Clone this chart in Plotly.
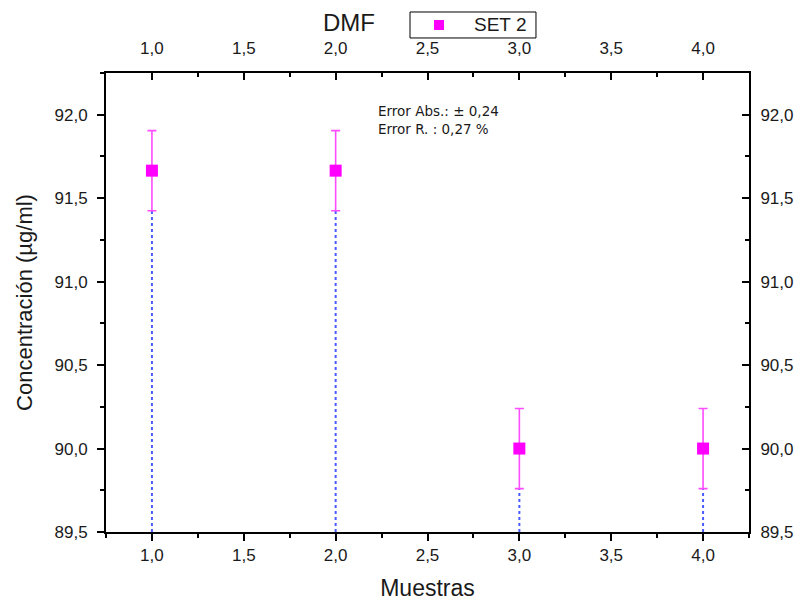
import plotly.graph_objects as go

# Sample numbers and measured concentrations (µg/ml)
muestras = [1.0, 2.0, 3.0, 4.0]
concentracion = [91.665, 91.665, 90.0, 90.0]
error_abs = [0.24, 0.24, 0.24, 0.24]
serie = "SET 2"

x_range = [0.75, 4.25]
y_range = [89.5, 92.25]
y_base = y_range[0]

font_family = "Liberation Sans, Arial, sans-serif"
ink = "#1a1a1a"
magenta = "#ff00ff"

fig = go.Figure()

# Dotted drop lines from the lower end of each error bar down to the axis
for xv, yv, ev in zip(muestras, concentracion, error_abs):
    fig.add_trace(go.Scatter(
        x=[xv, xv], y=[y_base, yv - ev], mode="lines",
        line=dict(color="#4a5cff", width=2, dash="dot"),
        showlegend=False, hoverinfo="skip",
    ))

# Measured values with absolute error bars
fig.add_trace(go.Scatter(
    x=muestras, y=concentracion, mode="markers", name=serie,
    marker=dict(symbol="square", size=12, color=magenta),
    error_y=dict(type="data", array=error_abs, visible=True,
                 color="#ff4cff", thickness=1.6, width=4.5),
    showlegend=False,
))

# Invisible trace that anchors the mirrored top/right axes
fig.add_trace(go.Scatter(
    x=muestras, y=concentracion, xaxis="x2", yaxis="y2", mode="markers",
    marker=dict(opacity=0), showlegend=False, hoverinfo="skip",
))

axis_common = dict(
    showgrid=False, zeroline=False, showline=True, linecolor="black",
    linewidth=2, tickcolor="black", tickwidth=2, ticklen=7,
    tickfont=dict(family=font_family, size=17, color=ink),
    tickformat=".1f", automargin=False,
)
minor_out = dict(ticks="outside", ticklen=4, tickwidth=2, tickcolor="black")
minor_in = dict(ticks="inside", ticklen=4, tickwidth=2, tickcolor="black")

# Compact framed legend box above the plot
legend_shapes = [
    dict(type="rect", xref="paper", yref="paper",
         x0=0.4728, x1=0.6687, y0=1.0763, y1=1.1329,
         line=dict(color="black", width=1), fillcolor="white", layer="above"),
    dict(type="rect", xref="paper", yref="paper",
         x0=0.5101, x1=0.5257, y0=1.0937, y1=1.1155,
         line=dict(width=0), fillcolor=magenta, layer="above"),
]

fig.update_layout(
    width=800, height=601,
    paper_bgcolor="white", plot_bgcolor="white",
    separators=",.",
    margin=dict(l=106, r=51, t=73, b=69, autoexpand=False),
    font=dict(family=font_family, color=ink),
    showlegend=False,
    xaxis=dict(
        **axis_common, range=x_range, dtick=0.5, tick0=1.0, ticks="outside",
        minor=dict(dtick=0.25, tick0=0.75, **minor_out),
        title=dict(text="Muestras", font=dict(size=23, color=ink), standoff=16),
    ),
    yaxis=dict(
        **axis_common, range=y_range, dtick=0.5, tick0=89.5, ticks="outside",
        ticklabelstandoff=6,
        minor=dict(dtick=0.25, **minor_out),
        title=dict(text="Concentración (µg/ml)", font=dict(size=22, color=ink),
                   standoff=16),
    ),
    xaxis2=dict(
        **axis_common, range=x_range, dtick=0.5, tick0=1.0, ticks="inside",
        overlaying="x", side="top", anchor="y", ticklabelstandoff=10,
        minor=dict(dtick=0.25, tick0=0.75, **minor_in),
    ),
    yaxis2=dict(
        **axis_common, range=y_range, dtick=0.5, tick0=89.5, ticks="inside",
        overlaying="y", side="right", anchor="x", ticklabelstandoff=6,
        minor=dict(dtick=0.25, **minor_in),
    ),
    shapes=legend_shapes,
    annotations=[
        dict(text="DMF", xref="paper", yref="paper", x=0.378, y=1.11,
             xanchor="center", yanchor="middle", showarrow=False,
             font=dict(size=24, color=ink)),
        dict(text=serie, xref="paper", yref="paper", x=0.5692, y=1.1046,
             xanchor="left", yanchor="middle", showarrow=False,
             font=dict(size=19, color=ink)),
        dict(text="Error Abs.: ± 0,24<br>Error R. : 0,27 %",
             xref="paper", yref="paper", x=0.42, y=0.94,
             xanchor="left", yanchor="top", align="left", showarrow=False,
             font=dict(family="DejaVu Sans, sans-serif", size=13.5, color=ink)),
    ],
)

fig.write_html("out.html")
